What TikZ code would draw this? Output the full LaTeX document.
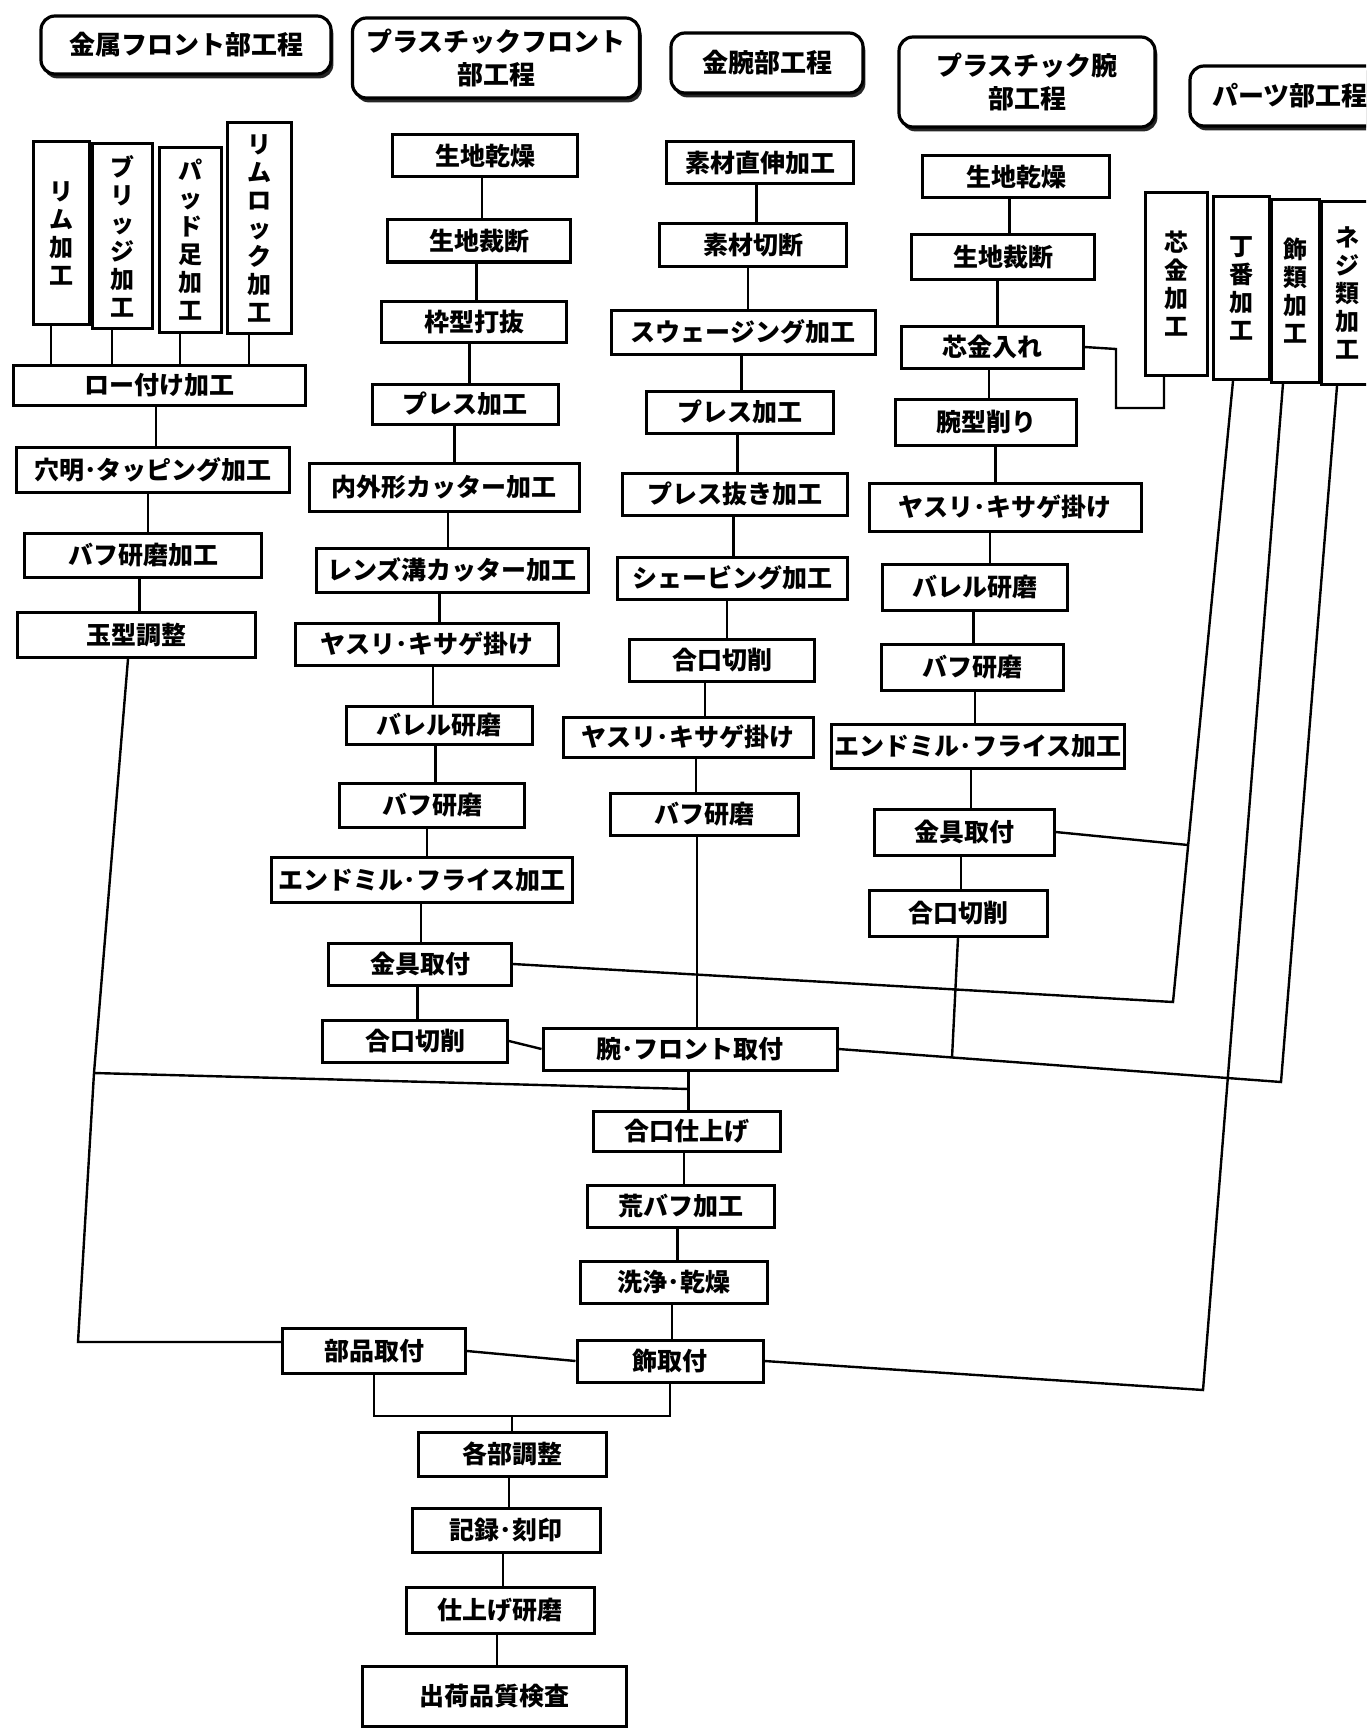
\documentclass[tikz,border=0pt]{standalone}
\usepackage{fontspec}
\setmainfont{Noto Sans CJK JP}
\usetikzlibrary{shadows,calc}
\newcommand\vlink[2]{\path ($(#1.south)!.5!(#2.north)$) coordinate (mtmp);\draw[ln] (mtmp |- #1.south) -- (mtmp |- #2.north);}
\begin{document}
\begin{tikzpicture}[x=0.5pt,y=-0.5pt,
  bx/.style={draw, line width=1.5pt, fill=white, inner sep=0pt, font=\fontsize{12.5}{15}\selectfont\bfseries},
  vb/.style={bx, align=center, font=\fontsize{12}{14}\selectfont\bfseries},
  hd/.style={draw, line width=1.6pt, rounded corners=7pt, fill=white, inner sep=0pt, align=center,
     font=\fontsize{13}{16.5}\selectfont\bfseries,
     drop shadow={shadow xshift=1.2pt, shadow yshift=-2.2pt, fill=black, opacity=0.85}},
  sz/.style 2 args={minimum width=#1*0.5pt, minimum height=#2*0.5pt},
  ln/.style={line width=1.2pt}]
\useasboundingbox (0,0) rectangle (1366,1728);
\fill[white] (0,0) rectangle (1366,1728);
\clip (0,0) rectangle (1366,1728);

% headers
\node[hd,sz={290}{58}] (h1) at (186,45) {金属フロント部工程};
\node[hd,sz={287}{80}] (h2) at (496,58) {プラスチックフロント\\部工程};
\node[hd,sz={192}{60}] (h3) at (767,63) {金腕部工程};
\node[hd,sz={256}{90}] (h4) at (1027,82) {プラスチック腕\\部工程};
\node[hd,sz={200}{60}] (h5) at (1290,96) {パーツ部工程};

% metal front
\node[vb,sz={56}{183}] (mf1) at (61,233) {リ\\ム\\加\\工};
\node[vb,sz={60}{185}] (mf2) at (122,236) {ブ\\リ\\ッ\\ジ\\加\\工};
\node[vb,sz={62}{185}] (mf3) at (190,240) {パ\\ッ\\ド\\足\\加\\工};
\node[vb,sz={64}{210}] (mf4) at (259,228) {リ\\ム\\ロ\\ッ\\ク\\加\\工};
\node[bx,sz={292}{40}] (mf5) at (159,385) {ロー付け加工};
\node[bx,sz={273}{45}] (mf6) at (153,470) {穴明･タッピング加工};
\node[bx,sz={237}{44}] (mf7) at (143,555) {バフ研磨加工};
\node[bx,sz={238}{45}] (mf8) at (136,635) {玉型調整};

% plastic front
\node[bx,sz={185}{42}] (pf1) at (485,156) {生地乾燥};
\node[bx,sz={183}{42}] (pf2) at (479,241) {生地裁断};
\node[bx,sz={185}{41}] (pf3) at (474,322) {枠型打抜};
\node[bx,sz={186}{40}] (pf4) at (465,404) {プレス加工};
\node[bx,sz={270}{48}] (pf5) at (444,487) {内外形カッター加工};
\node[bx,sz={272}{44}] (pf6) at (452,570) {レンズ溝カッター加工};
\node[bx,sz={263}{42}] (pf7) at (427,644) {ヤスリ･キサゲ掛け};
\node[bx,sz={186}{38}] (pf8) at (439,725) {バレル研磨};
\node[bx,sz={185}{44}] (pf9) at (432,805) {バフ研磨};
\node[bx,sz={301}{45}] (pf10) at (422,880) {エンドミル･フライス加工};
\node[bx,sz={183}{42}] (pf11) at (420,964) {金具取付};
\node[bx,sz={185}{42}] (pf12) at (415,1041) {合口切削};

% metal arm (spine)
\node[bx,sz={187}{42}] (ma1) at (760,163) {素材直伸加工};
\node[bx,sz={187}{42}] (ma2) at (753,245) {素材切断};
\node[bx,sz={264}{44}] (ma3) at (743,332) {スウェージング加工};
\node[bx,sz={187}{42}] (ma4) at (740,412) {プレス加工};
\node[bx,sz={225}{42}] (ma5) at (735,494) {プレス抜き加工};
\node[bx,sz={230}{42}] (ma6) at (732,578) {シェービング加工};
\node[bx,sz={185}{42}] (ma7) at (722,660) {合口切削};
\node[bx,sz={250}{40}] (ma8) at (688,737) {ヤスリ･キサゲ掛け};
\node[bx,sz={188}{42}] (ma9) at (704,814) {バフ研磨};
\node[bx,sz={294}{42}] (ma10) at (690,1049) {腕･フロント取付};
\node[bx,sz={187}{40}] (ma11) at (687,1131) {合口仕上げ};
\node[bx,sz={187}{42}] (ma12) at (681,1206) {荒バフ加工};
\node[bx,sz={187}{42}] (ma13) at (674,1282) {洗浄･乾燥};
\node[bx,sz={186}{42}] (ma14) at (670,1361) {飾取付};

% plastic arm
\node[bx,sz={187}{42}] (pa1) at (1016,177) {生地乾燥};
\node[bx,sz={183}{44}] (pa2) at (1003,257) {生地裁断};
\node[bx,sz={182}{42}] (pa3) at (992,347) {芯金入れ};
\node[bx,sz={181}{46}] (pa4) at (986,422) {腕型削り};
\node[bx,sz={272}{48}] (pa5) at (1005,507) {ヤスリ･キサゲ掛け};
\node[bx,sz={185}{46}] (pa6) at (975,587) {バレル研磨};
\node[bx,sz={182}{46}] (pa7) at (972,667) {バフ研磨};
\node[bx,sz={293}{44}] (pa8) at (978,746) {エンドミル･フライス加工};
\node[bx,sz={180}{46}] (pa9) at (964,832) {金具取付};
\node[bx,sz={178}{46}] (pa10) at (958,913) {合口切削};

% parts
\node[vb,sz={62}{182}] (pt1) at (1176,284) {芯\\金\\加\\工};
\node[vb,sz={56}{183}] (pt2) at (1241,288) {丁\\番\\加\\工};
\node[vb,sz={48}{182}] (pt3) at (1295,291) {飾\\類\\加\\工};
\node[vb,sz={52}{183}] (pt4) at (1347,293) {ネ\\ジ\\類\\加\\工};

% bottom
\node[bx,sz={183}{45}] (b1) at (374,1351) {部品取付};
\node[bx,sz={188}{44}] (b2) at (512,1454) {各部調整};
\node[bx,sz={188}{44}] (b3) at (506,1530) {記録･刻印};
\node[bx,sz={188}{46}] (b4) at (500,1610) {仕上げ研磨};
\node[bx,sz={264}{60}] (b5) at (494,1696) {出荷品質検査};

% junction coordinates
\coordinate (jL) at (94,1073);
\coordinate (jL2) at (78,1342);
\coordinate (jS) at (689,1089);
\coordinate (jA) at (1173,1002);
\coordinate (jA2) at (1188,845);
\coordinate (jB) at (1281,1082);
\coordinate (jC) at (1203,1390);
\coordinate (jD) at (952,1058);
\coordinate (jE1) at (1116,349);
\coordinate (jE2) at (1116,408);
\coordinate (jE3) at (1164,408);
\coordinate (jb) at (0,1416);

% metal front links
\foreach \n in {mf1,mf2,mf3,mf4}{\draw[ln] ([xshift=-5pt]\n.south) -- ([xshift=-5pt]\n.south |- mf5.north);}
\vlink{mf5}{mf6}\vlink{mf6}{mf7}\vlink{mf7}{mf8}
\draw[ln] ([xshift=-4pt]mf8.south) -- (jL) -- (jL2) -- (jL2 -| b1.west);
\draw[ln] (jL) -- (jS);

% plastic front links
\vlink{pf1}{pf2}\vlink{pf2}{pf3}\vlink{pf3}{pf4}\vlink{pf4}{pf5}\vlink{pf5}{pf6}
\vlink{pf6}{pf7}\vlink{pf7}{pf8}\vlink{pf8}{pf9}\vlink{pf9}{pf10}\vlink{pf10}{pf11}\vlink{pf11}{pf12}
\draw[ln] (pf12.east) -- (ma10.west);

% spine links
\vlink{ma1}{ma2}\vlink{ma2}{ma3}\vlink{ma3}{ma4}\vlink{ma4}{ma5}\vlink{ma5}{ma6}
\vlink{ma6}{ma7}\vlink{ma7}{ma8}\vlink{ma8}{ma9}\vlink{ma9}{ma10}\vlink{ma10}{ma11}
\vlink{ma11}{ma12}\vlink{ma12}{ma13}\vlink{ma13}{ma14}

% plastic arm links
\vlink{pa1}{pa2}\vlink{pa2}{pa3}\vlink{pa3}{pa4}\vlink{pa4}{pa5}\vlink{pa5}{pa6}
\vlink{pa6}{pa7}\vlink{pa7}{pa8}\vlink{pa8}{pa9}\vlink{pa9}{pa10}
\draw[ln] (pa10.south) -- (jD);

% parts links
\draw[ln] (pa3.east) -- (jE1) -- (jE2) -- (jE3) -- (jE3 |- pt1.south);
\draw[ln] (pf11.east) -- (jA) -- ([xshift=-4pt]pt2.south);
\draw[ln] (pa9.east) -- (jA2);
\draw[ln] ([xshift=-5pt]pt4.south) -- (jB) -- (ma10.east);
\draw[ln] ([xshift=-6pt]pt3.south) -- (jC) -- (ma14.east);

% bottom links
\draw[ln] (b1.east) -- (ma14.west);
\draw[ln] (b1.south) -- (b1.south |- jb) -- (ma14.south |- jb) -- (ma14.south);
\draw[ln] (b2.north |- jb) -- (b2.north);
\vlink{b2}{b3}\vlink{b3}{b4}\vlink{b4}{b5}
\end{tikzpicture}
\end{document}
